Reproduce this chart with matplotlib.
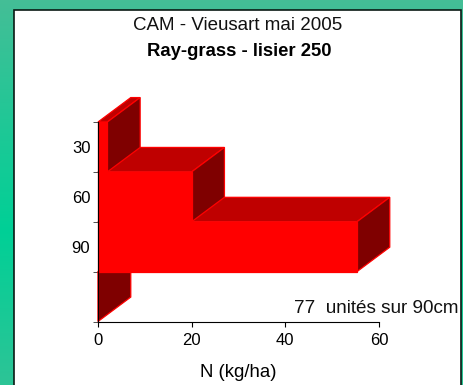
import numpy as np
import matplotlib
matplotlib.use('Agg')
import matplotlib.pyplot as plt
from matplotlib.patches import Polygon, Rectangle

plt.rcParams['font.family'] = ['Liberation Sans', 'DejaVu Sans']

# data
depth_labels = ['30', '60', '90']
n_values = [2, 20, 55.3, 0]
x_ticks = [0, 20, 40, 60]
title_1 = 'CAM - Vieusart mai 2005'
title_2 = 'Ray-grass - lisier 250'
note = '77  unités sur 90cm'
x_label = 'N (kg/ha)'

W, H = 464, 385
fig = plt.figure(figsize=(W / 100, H / 100), dpi=100)

# green gradient background
bg = fig.add_axes([0, 0, 1, 1], zorder=0)
bg.axis('off')
grad_top = np.array([68, 190, 150]) / 255
grad_mid = np.array([0, 208, 150]) / 255
t = (np.abs(np.linspace(-1, 1, 256) - 0.2) / 1.2)[:, None, None]
bg.imshow(grad_mid + (grad_top - grad_mid) * t, aspect='auto', extent=[0, 1, 0, 1])
bg.set_xlim(0, 1)
bg.set_ylim(0, 1)

# white panel, runs off the bottom of the picture
bg.add_patch(Rectangle((14 / W, -0.02), (461.5 - 14) / W, 1.02 - 10 / H,
                       facecolor='white', edgecolor='#0a1a14', linewidth=1.2))

ax = fig.add_axes([98 / W, 1 - 321.5 / H, (379 - 98) / W, (321.5 - 122) / H], zorder=1)
ax.patch.set_alpha(0)
ax.set_xlim(0, 60)
ax.set_ylim(4, 0)

# 3d offset of the bars in data units
dx = 7.0
dy = 0.49

FRONT = '#ff0000'
TOP = '#bf0000'
SIDE = '#7f0000'

# bottom layer first, each upper layer hides the top face of the one below
for i in range(len(n_values) - 1, -1, -1):
    v = n_values[i]
    top_face = [(0, i), (v, i), (v + dx, i - dy), (dx, i - dy)]
    side_face = [(v, i), (v + dx, i - dy), (v + dx, i + 1 - dy), (v, i + 1)]
    front_face = [(0, i), (v, i), (v, i + 1), (0, i + 1)]
    z = 2 + (len(n_values) - i)
    for pts, col in [(top_face, TOP), (side_face, SIDE), (front_face, FRONT)]:
        ax.add_patch(Polygon(pts, closed=True, facecolor=col, edgecolor=FRONT,
                             linewidth=0.9, clip_on=False, zorder=z))

for s in ['top', 'right']:
    ax.spines[s].set_visible(False)
for s in ['left', 'bottom']:
    ax.spines[s].set_linewidth(0.8)
    ax.spines[s].set_zorder(10)

ax.set_xticks(x_ticks)
ax.set_yticks(range(5))
ax.set_yticklabels([])
ax.set_yticks([0.5, 1.5, 2.5], minor=True)
ax.set_yticklabels(depth_labels, minor=True)
ax.tick_params(axis='y', which='minor', length=0, labelsize=12, pad=5.5)
ax.tick_params(axis='y', which='major', length=3.5, width=0.6, color='#333333')
ax.tick_params(axis='x', length=3.5, width=0.8, labelsize=12, pad=4.5)
ax.set_xlabel(x_label, fontsize=13.4, labelpad=12)

fig.text(238 / W, 1 - 25.5 / H, title_1, ha='center', va='center', fontsize=13.5, color='#111111')
fig.text(239 / W, 1 - 51 / H, title_2, ha='center', va='center', fontsize=13.3, fontweight='bold')
fig.text(459 / W, 1 - 308.5 / H, note, ha='right', va='center', fontsize=13.6, color='#111111')

fig.savefig('out.png', dpi=100)
